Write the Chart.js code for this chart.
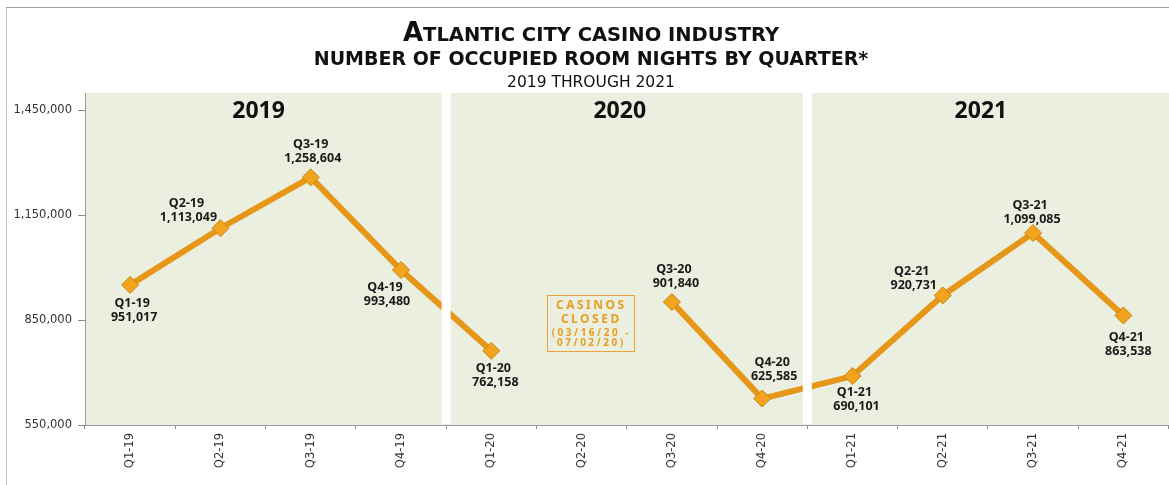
<!DOCTYPE html>
<html>
<head>
<meta charset="utf-8">
<script src="https://cdn.jsdelivr.net/npm/chart.js@4.4.1/dist/chart.umd.min.js"></script>
<style>
  html, body { margin: 0; padding: 0; background: #ffffff; overflow: hidden; width: 1169px; height: 485px; }
  #wrap { position: absolute; left: 0; top: 0; width: 1169px; height: 485px; overflow: hidden; }
  #c { position: absolute; left: 0; top: 0; }
</style>
</head>
<body>
<div id="wrap"><canvas id="c" width="1178" height="485"></canvas></div>
<script>
// ---- data ----
const categories = ['Q1-19', 'Q2-19', 'Q3-19', 'Q4-19', 'Q1-20', 'Q2-20', 'Q3-20', 'Q4-20', 'Q1-21', 'Q2-21', 'Q3-21', 'Q4-21'];
const occupiedRoomNights = [951017, 1113049, 1258604, 993480, 762158, null, 901840, 625585, 690101, 920731, 1099085, 863538];
const yTicks = [550000, 850000, 1150000, 1450000];
const yearLabels = ['2019', '2020', '2021'];
const titleFirstLetter = 'A';
const titleRest = 'TLANTIC CITY CASINO INDUSTRY';
const subtitle1 = 'NUMBER OF OCCUPIED ROOM NIGHTS BY QUARTER*';
const subtitle2 = '2019 THROUGH 2021';
const closedNote = ['CASINOS', 'CLOSED', '(03/16/20 -', '07/02/20)'];

// ---- styling (not data) ----
const labelOffsets = [[2, 19], [-34, -25], [0, -33], [-16, 17], [2, 18], null, [2, -33], [10, -36], [2, 16], [-31, -24], [-3, -28], [3, 22]];
const LINE = '#E6971A';
const GREEN = '#EBEFDF';
const fmt = v => v.toLocaleString('en-US');

const decor = {
  id: 'decor',
  beforeDraw(chart) {
    const { ctx, chartArea: a } = chart;
    ctx.save();
    ctx.fillStyle = GREEN;
    ctx.fillRect(a.left, a.top, a.right - a.left + 10, a.bottom - a.top);
    ctx.lineWidth = 1;
    ctx.strokeStyle = '#C8C8C8';
    ctx.beginPath(); ctx.moveTo(6.5, 8); ctx.lineTo(6.5, 485); ctx.stroke();
    ctx.strokeStyle = '#A3A3A3';
    ctx.beginPath(); ctx.moveTo(6, 7.5); ctx.lineTo(1178, 7.5); ctx.stroke();
    // titles
    const cx = 591;
    ctx.fillStyle = '#111111';
    ctx.textBaseline = 'alphabetic';
    ctx.textAlign = 'left';
    const f1 = 'bold 26px "DejaVu Sans"', f2 = 'bold 19.5px "DejaVu Sans"';
    ctx.font = f1; const w1 = ctx.measureText(titleFirstLetter).width;
    ctx.font = f2; const w2 = ctx.measureText(titleRest).width;
    let x0 = cx - (w1 + w2) / 2;
    ctx.font = f1; ctx.fillText(titleFirstLetter, x0, 41);
    ctx.font = f2; ctx.fillText(titleRest, x0 + w1, 41);
    ctx.textAlign = 'center';
    ctx.font = 'bold 19px "DejaVu Sans"';
    ctx.fillText(subtitle1, cx, 65);
    ctx.font = '15.5px "DejaVu Sans"';
    ctx.fillText(subtitle2, cx, 87);
    ctx.restore();
  },
  afterDatasetDraw(chart, args) {
    if (args.index !== 0) return;
    const { ctx, chartArea: a, scales: { x } } = chart;
    ctx.save();
    ctx.fillStyle = '#FFFFFF';
    [3.5, 7.5].forEach(b => {
      const px = x.getPixelForValue(b);
      ctx.fillRect(px - 4.5, a.top, 9, a.bottom - a.top - 1);
    });
    ctx.fillStyle = '#111111';
    ctx.font = 'bold 23px "Noto Sans"';
    ctx.textAlign = 'center';
    ctx.textBaseline = 'middle';
    yearLabels.forEach((yl, i) => {
      ctx.fillText(yl, x.getPixelForValue(4 * i + 1.5) - 7, a.top + 18);
    });
    ctx.restore();
  },
  afterDatasetsDraw(chart) {
    const { ctx, chartArea: a, scales: { x, y } } = chart;
    ctx.save();
    ctx.fillStyle = '#1A1A1A';
    ctx.font = 'bold 12.5px "Noto Sans"';
    ctx.textAlign = 'center';
    ctx.textBaseline = 'middle';
    occupiedRoomNights.forEach((v, i) => {
      if (v == null || !labelOffsets[i]) return;
      const px = x.getPixelForValue(i), py = y.getPixelForValue(v);
      const [dx, dy] = labelOffsets[i];
      ctx.fillText(categories[i], px + dx, py + dy);
      ctx.fillText(fmt(v), px + dx + 2, py + dy + 14);
    });
    // casinos closed note
    const bx = x.getPixelForValue(5) + 8.5, by = a.top + 202;
    ctx.strokeStyle = '#E9A33A';
    ctx.lineWidth = 1;
    ctx.strokeRect(Math.round(bx - 43.5) + 0.5, by + 0.5, 87, 56);
    ctx.fillStyle = '#E89E22';
    ctx.letterSpacing = '2.5px';
    ctx.font = 'bold 12px "Noto Sans"';
    ctx.fillText(closedNote[0], bx + 1.2, by + 11);
    ctx.fillText(closedNote[1], bx + 1.2, by + 25);
    ctx.font = 'bold 10px "Noto Sans"';
    ctx.fillText(closedNote[2], bx + 1.2, by + 38);
    ctx.fillText(closedNote[3], bx + 1.2, by + 48);
    ctx.restore();
  }
};

new Chart(document.getElementById('c'), {
  type: 'line',
  data: {
    labels: categories,
    datasets: [
      {
        data: occupiedRoomNights,
        borderColor: LINE,
        borderWidth: 6,
        pointRadius: 0,
        pointHoverRadius: 0,
        spanGaps: false,
        tension: 0,
        order: 2
      },
      {
        data: occupiedRoomNights,
        showLine: false,
        pointStyle: 'rectRot',
        pointRadius: 8.5,
        pointHoverRadius: 8.5,
        pointBackgroundColor: '#F2A41E',
        pointBorderColor: '#C78410',
        pointBorderWidth: 1,
        order: 1
      }
    ]
  },
  options: {
    responsive: false,
    animation: false,
    devicePixelRatio: 1,
    layout: { padding: { top: 93, left: 0, right: 4, bottom: 0 } },
    plugins: { legend: { display: false }, tooltip: { enabled: false }, title: { display: false } },
    events: [],
    scales: {
      x: {
        type: 'category',
        offset: true,
        grid: { offset: true, drawOnChartArea: false, drawTicks: true, tickLength: 4, color: '#8C8C8C' },
        border: { color: '#9A9A9A', width: 1 },
        ticks: {
          minRotation: 90, maxRotation: 90, padding: 4, autoSkip: false,
          color: '#333333', font: { family: 'DejaVu Sans', size: 11.5 }
        },
        afterFit(s) { s.height = 60; }
      },
      y: {
        min: 550000,
        max: 1500000,
        grid: { drawOnChartArea: false, drawTicks: true, tickLength: 7, color: '#8C8C8C' },
        border: { color: '#9A9A9A', width: 1 },
        ticks: {
          padding: 6, color: '#333333', font: { family: 'DejaVu Sans', size: 11.5 },
          callback: v => fmt(v)
        },
        afterBuildTicks(s) { s.ticks = yTicks.map(v => ({ value: v })); },
        afterFit(s) { s.width = 85; }
      }
    }
  },
  plugins: [decor]
});
</script>
</body>
</html>
